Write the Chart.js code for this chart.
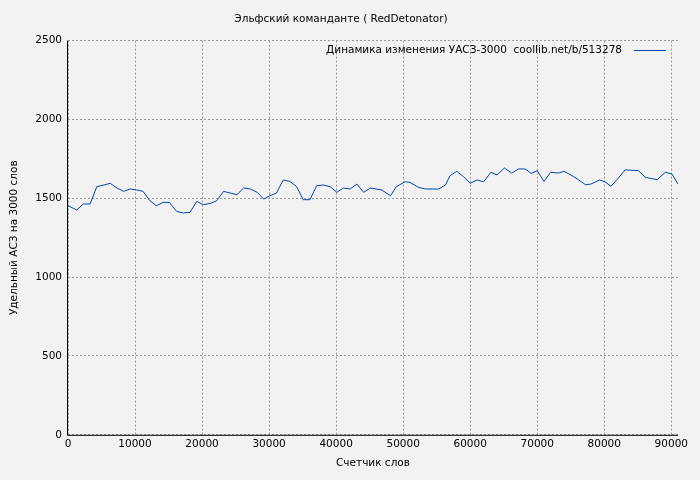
<!DOCTYPE html>
<html><head><meta charset="utf-8">
<script src="https://cdn.jsdelivr.net/npm/chart.js@4"></script>
<style>html,body{margin:0;padding:0;background:#f2f2f2}#w{width:700px;height:480px}</style>
</head><body><div id="w"><canvas id="c"></canvas></div>
<script>
const words=[0,1300,2300,3300,4300,5500,6300,7300,8300,9300,10250,11200,12200,13200,14200,15100,16200,17200,18200,19200,20200,21400,22200,23200,24200,25200,26200,27200,28200,29200,30100,31100,32100,33100,34100,35100,36100,37100,38100,39100,40100,41100,42100,43100,44100,45100,46800,48100,49000,50300,51000,52300,53300,55300,56300,57000,58000,59000,60000,61000,62000,63100,64000,65100,66200,67200,68200,69100,70000,71000,72000,73200,74000,75200,76200,77200,78000,79300,80100,81000,82100,83100,85100,86100,87900,89100,90100,91000];
const values=[1453,1426,1464,1464,1574,1586,1595,1565,1544,1559,1553,1544,1485,1453,1474,1474,1417,1407,1411,1480,1459,1470,1485,1544,1533,1523,1565,1559,1538,1495,1516,1533,1616,1607,1574,1491,1491,1580,1584,1574,1538,1565,1559,1590,1538,1565,1553,1516,1574,1605,1601,1569,1559,1559,1584,1643,1671,1637,1595,1616,1605,1665,1648,1692,1660,1686,1686,1658,1675,1607,1665,1660,1671,1643,1616,1586,1590,1616,1605,1576,1628,1680,1675,1633,1618,1665,1654,1590];
const xTicks=[0,10000,20000,30000,40000,50000,60000,70000,80000,90000];
const yTicks=[0,500,1000,1500,2000,2500];
const titleText="Эльфский команданте ( RedDetonator)";
const legendText="Динамика изменения УАСЗ-3000  coollib.net/b/513278";
const xTitle="Счетчик слов", yTitle="Удельный АСЗ на 3000 слов";
const F="'DejaVu Sans'";
const FS=10.5;
const bg={id:'bg',beforeDraw(c){const x=c.ctx;x.save();x.fillStyle='#f2f2f2';x.fillRect(0,0,c.width,c.height);x.restore();}};
const leg={id:'leg',afterDraw(c){const x=c.ctx,a=c.chartArea;x.save();
x.strokeStyle='#000';x.lineWidth=1;x.beginPath();x.moveTo(Math.round(a.left)-0.5,a.top);x.lineTo(Math.round(a.left)-0.5,a.bottom+0.5);x.lineTo(a.right,a.bottom+0.5);x.stroke();
x.font=FS+"px "+F;x.fillStyle='#000';x.textAlign='right';x.textBaseline='middle';x.fillText(legendText,a.right-56,50);x.strokeStyle='#0047ab';x.beginPath();x.moveTo(a.right-44,50.5);x.lineTo(a.right-12,50.5);x.stroke();x.restore();}};
new Chart(document.getElementById('c'),{type:'line',
data:{datasets:[{data:words.map((w,i)=>({x:w,y:values[i]})),borderColor:'#0047ab',borderWidth:1,pointRadius:0,tension:0,fill:false}]},
options:{responsive:true,maintainAspectRatio:false,animation:false,devicePixelRatio:1,
layout:{padding:{top:0,right:22,bottom:6,left:4}},
plugins:{legend:{display:false},tooltip:{enabled:false},
title:{display:true,text:titleText,color:'#000',font:{family:F,size:FS,weight:'normal'},padding:{top:13,bottom:15}}},
scales:{x:{type:'linear',min:0,max:91000,border:{display:false,dash:[2,2]},
afterBuildTicks(s){s.ticks=xTicks.map(v=>({value:v}));},
ticks:{color:'#000',font:{family:F,size:FS},maxRotation:0,autoSkip:false,callback:v=>String(v)},
grid:{color:'#999',drawTicks:false},
title:{display:true,text:xTitle,color:'#000',font:{family:F,size:FS},padding:{top:4}}},
y:{min:0,max:2500,border:{display:false,dash:[2,2]},afterFit(s){s.width=64;},
afterBuildTicks(s){s.ticks=yTicks.map(v=>({value:v}));},
ticks:{color:'#000',font:{family:F,size:FS},padding:6,callback:v=>String(v)},
grid:{color:'#999',drawTicks:false},
title:{display:true,text:yTitle,color:'#000',font:{family:F,size:FS},padding:{bottom:4}}}}},
plugins:[bg,leg]});
</script></body></html>
